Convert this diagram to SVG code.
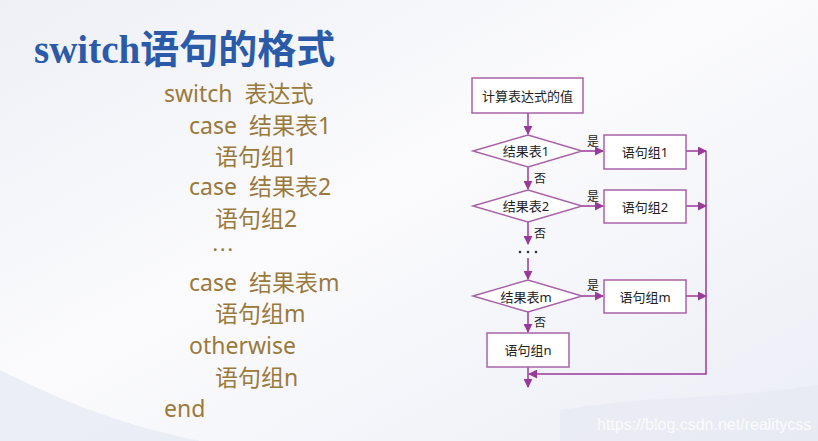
<svg xmlns="http://www.w3.org/2000/svg" width="818" height="441" viewBox="0 0 818 441">
<defs>
<linearGradient id="bg" x1="0" y1="0" x2="1" y2="1">
<stop offset="0" stop-color="#eef0f6"/>
<stop offset="0.45" stop-color="#fbfbfd"/>
<stop offset="1" stop-color="#eceef6"/>
</linearGradient>
<marker id="ah" viewBox="0 0 10 10" refX="9" refY="5" markerWidth="9" markerHeight="9" markerUnits="userSpaceOnUse" orient="auto">
<path d="M0,0 L10,5 L0,10 z" fill="#983a98"/>
</marker>
<style>
.title{font-family:"Liberation Serif","Noto Sans CJK SC",serif;font-size:39px;font-weight:bold;fill:#2a5aa8}
.code{font-family:"Noto Sans","Noto Sans CJK SC",sans-serif;font-size:23px;fill:#9a7a3c}
.box{fill:#ffffff;stroke:#a863a8;stroke-width:1.5}
.ft{font-family:"Noto Sans","Noto Sans CJK SC",sans-serif;font-size:13px;fill:#222;text-anchor:middle;dominant-baseline:central}
.lbl{font-family:"Noto Sans CJK SC",sans-serif;font-size:12px;fill:#222}
.ln{stroke:#983a98;stroke-width:1.5;fill:none}
.wm{font-family:"Liberation Sans",sans-serif;font-size:16px;fill:#ffffff;opacity:0.8}
</style>
</defs>
<rect width="818" height="441" fill="url(#bg)"/>
<path d="M560,410 C650,395 720,400 818,385 L818,441 L560,441 z" fill="#e6e8f2" opacity="0.6"/>
<path d="M0,370 C60,400 120,425 200,441 L0,441 z" fill="#e3e6f1" opacity="0.6"/>

<text class="title" x="34" y="63">switch语句的格式</text>

<g id="code">
<text class="code" x="164" y="102" xml:space="preserve">switch  表达式</text>
<text class="code" x="189" y="134" xml:space="preserve">case  结果表1</text>
<text class="code" x="215" y="165">语句组1</text>
<text class="code" x="189" y="195" xml:space="preserve">case  结果表2</text>
<text class="code" x="215" y="227">语句组2</text>
<text class="code" x="213" y="255" style="font-size:16px;font-weight:bold;letter-spacing:3px">···</text>
<text class="code" x="189" y="291" xml:space="preserve">case  结果表m</text>
<text class="code" x="215" y="322">语句组m</text>
<text class="code" x="189" y="354">otherwise</text>
<text class="code" x="215" y="386">语句组n</text>
<text class="code" x="164" y="417">end</text>
</g>

<g id="connectors">
<line class="ln" x1="528" y1="113" x2="528" y2="134" marker-end="url(#ah)"/>
<line class="ln" x1="582" y1="151" x2="603" y2="151" marker-end="url(#ah)"/>
<line class="ln" x1="686" y1="151" x2="706" y2="151" marker-end="url(#ah)"/>
<line class="ln" x1="528" y1="167" x2="528" y2="189" marker-end="url(#ah)"/>
<line class="ln" x1="582" y1="206" x2="603" y2="206" marker-end="url(#ah)"/>
<line class="ln" x1="686" y1="206" x2="706" y2="206" marker-end="url(#ah)"/>
<line class="ln" x1="528" y1="222" x2="528" y2="244" marker-end="url(#ah)"/>
<line class="ln" x1="528" y1="258" x2="528" y2="279" marker-end="url(#ah)"/>
<line class="ln" x1="582" y1="296" x2="603" y2="296" marker-end="url(#ah)"/>
<line class="ln" x1="686" y1="296" x2="706" y2="296" marker-end="url(#ah)"/>
<line class="ln" x1="528" y1="312" x2="528" y2="332" marker-end="url(#ah)"/>
<polyline class="ln" points="706,151 706,374 529,374" marker-end="url(#ah)"/>
<line class="ln" x1="528" y1="367" x2="528" y2="387" marker-end="url(#ah)"/>
<text class="lbl" x="587" y="146">是</text>
<text class="lbl" x="587" y="201">是</text>
<text class="lbl" x="587" y="290">是</text>
<text class="lbl" x="534" y="183">否</text>
<text class="lbl" x="534" y="238">否</text>
<text class="lbl" x="534" y="327">否</text>
<g fill="#333"><circle cx="520" cy="252" r="1.3"/><circle cx="528" cy="252" r="1.3"/><circle cx="536" cy="252" r="1.3"/></g>
</g>

<g id="start"><rect class="box" x="472" y="78" width="111" height="35"/><text class="ft" x="527.5" y="96">计算表达式的值</text></g>
<g id="d1"><polygon class="box" points="473,151 528,135 582,151 528,167"/><text class="ft" x="526" y="151">结果表1</text></g>
<g id="b1"><rect class="box" x="604" y="135" width="82" height="34"/><text class="ft" x="645" y="152">语句组1</text></g>
<g id="d2"><polygon class="box" points="473,206 528,190 582,206 528,222"/><text class="ft" x="526" y="206">结果表2</text></g>
<g id="b2"><rect class="box" x="604" y="190" width="82" height="33"/><text class="ft" x="645" y="207">语句组2</text></g>
<g id="dm"><polygon class="box" points="473,296 528,280 582,296 528,312"/><text class="ft" x="526" y="297">结果表m</text></g>
<g id="bm"><rect class="box" x="604" y="280" width="82" height="33"/><text class="ft" x="645" y="297">语句组m</text></g>
<g id="bn"><rect class="box" x="487" y="333" width="82" height="34"/><text class="ft" x="528" y="350">语句组n</text></g>

<text class="wm" x="597" y="430">https://blog.csdn.net/realitycss</text>
</svg>
